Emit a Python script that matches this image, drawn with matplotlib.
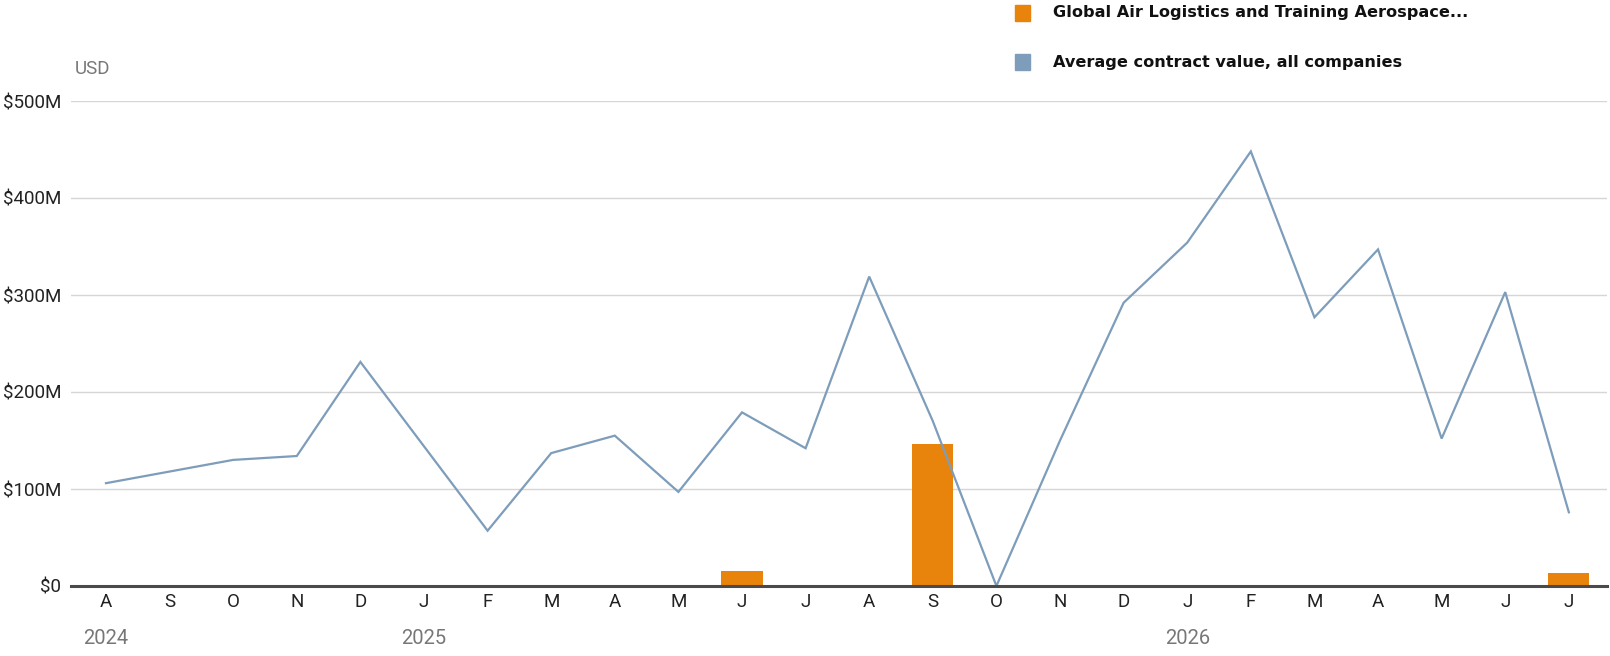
import matplotlib
matplotlib.use("Agg")
import matplotlib.pyplot as plt
from matplotlib.patches import Rectangle
from matplotlib import font_manager as fm

# ---- data ----
month_labels = ["A", "S", "O", "N", "D", "J", "F", "M", "A", "M", "J", "J",
                "A", "S", "O", "N", "D", "J", "F", "M", "A", "M", "J", "J"]
year_labels = ["2024", "2025", "2026"]
year_positions = [0, 5, 17]  # index of month where year label sits
avg_values = [106, 118, 130, 134, 231, 144, 57, 137, 155, 97, 179, 142,
              319, 170, 0, 150, 292, 354, 448, 277, 347, 152, 303, 76]  # $M
company_values = [0, 0, 0, 0, 0, 0, 0, 0, 0, 0, 15, 0,
                  0, 146, 0, 0, 0, 0, 0, 0, 0, 0, 0, 13]  # $M
y_ticks = [0, 100, 200, 300, 400, 500]
y_tick_labels = ["$0", "$100M", "$200M", "$300M", "$400M", "$500M"]
series_names = ["Global Air Logistics and Training Aerospace...",
                "Average contract value, all companies"]

ORANGE = "#e8830c"
BLUE = "#7d9dbb"

tick_font = "Roboto"

W, H = 1610, 656
fig = plt.figure(figsize=(W / 100, H / 100), dpi=100)
left, right, bottom, top = 71, 1607, 586, 101
ax = fig.add_axes([left / W, 1 - bottom / H, (right - left) / W, (bottom - top) / H])

x = list(range(len(month_labels)))
bars = [(i, v) for i, v in zip(x, company_values) if v > 0]
ax.bar([b[0] for b in bars], [b[1] for b in bars], width=0.645, color=ORANGE, zorder=2)
ax.plot(x, avg_values, color=BLUE, lw=1.6, zorder=3, solid_joinstyle="miter")

ax.set_xlim(-0.55, 23.6)
ax.set_ylim(0, 500)
ax.set_yticks(y_ticks)
ax.set_yticklabels(y_tick_labels)
ax.set_xticks(x)
ax.set_xticklabels(month_labels)
for s in ["top", "right", "left"]:
    ax.spines[s].set_visible(False)
ax.spines["bottom"].set_color("#4a4a4a")
ax.spines["bottom"].set_linewidth(2.2)
ax.spines["bottom"].set_zorder(4)
ax.grid(axis="y", color="#d6d6d6", lw=1.0, zorder=0)
ax.set_axisbelow(True)
ax.tick_params(axis="both", length=0, labelsize=13.5, colors="#222222")
ax.tick_params(axis="x", pad=5)
ax.tick_params(axis="y", pad=7)
for lab in ax.get_xticklabels() + ax.get_yticklabels():
    lab.set_fontfamily(tick_font)

# year labels
for yl, yp in zip(year_labels, year_positions):
    ax.text(yp, -53 / 0.972, yl, ha="center", va="center", fontsize=14.5,
            color="#777777", fontfamily="Roboto")

# unit label
fig.text(75 / W, 1 - 69 / H, "USD", ha="left", va="center", fontsize=13.5,
         color="#777777", fontfamily="Roboto")

# legend
for i, (name, col) in enumerate(zip(series_names, [ORANGE, BLUE])):
    yc = 13 + i * 49
    fig.patches.append(Rectangle((1015 / W, 1 - (yc + 8) / H), 15 / W, 16 / H,
                                 transform=fig.transFigure, color=col))
    fig.text(1053 / W, 1 - yc / H, name, ha="left", va="center", fontsize=11.6,
             fontweight="bold", color="#111111", fontfamily="DejaVu Sans")

fig.savefig("out.png", dpi=100)
